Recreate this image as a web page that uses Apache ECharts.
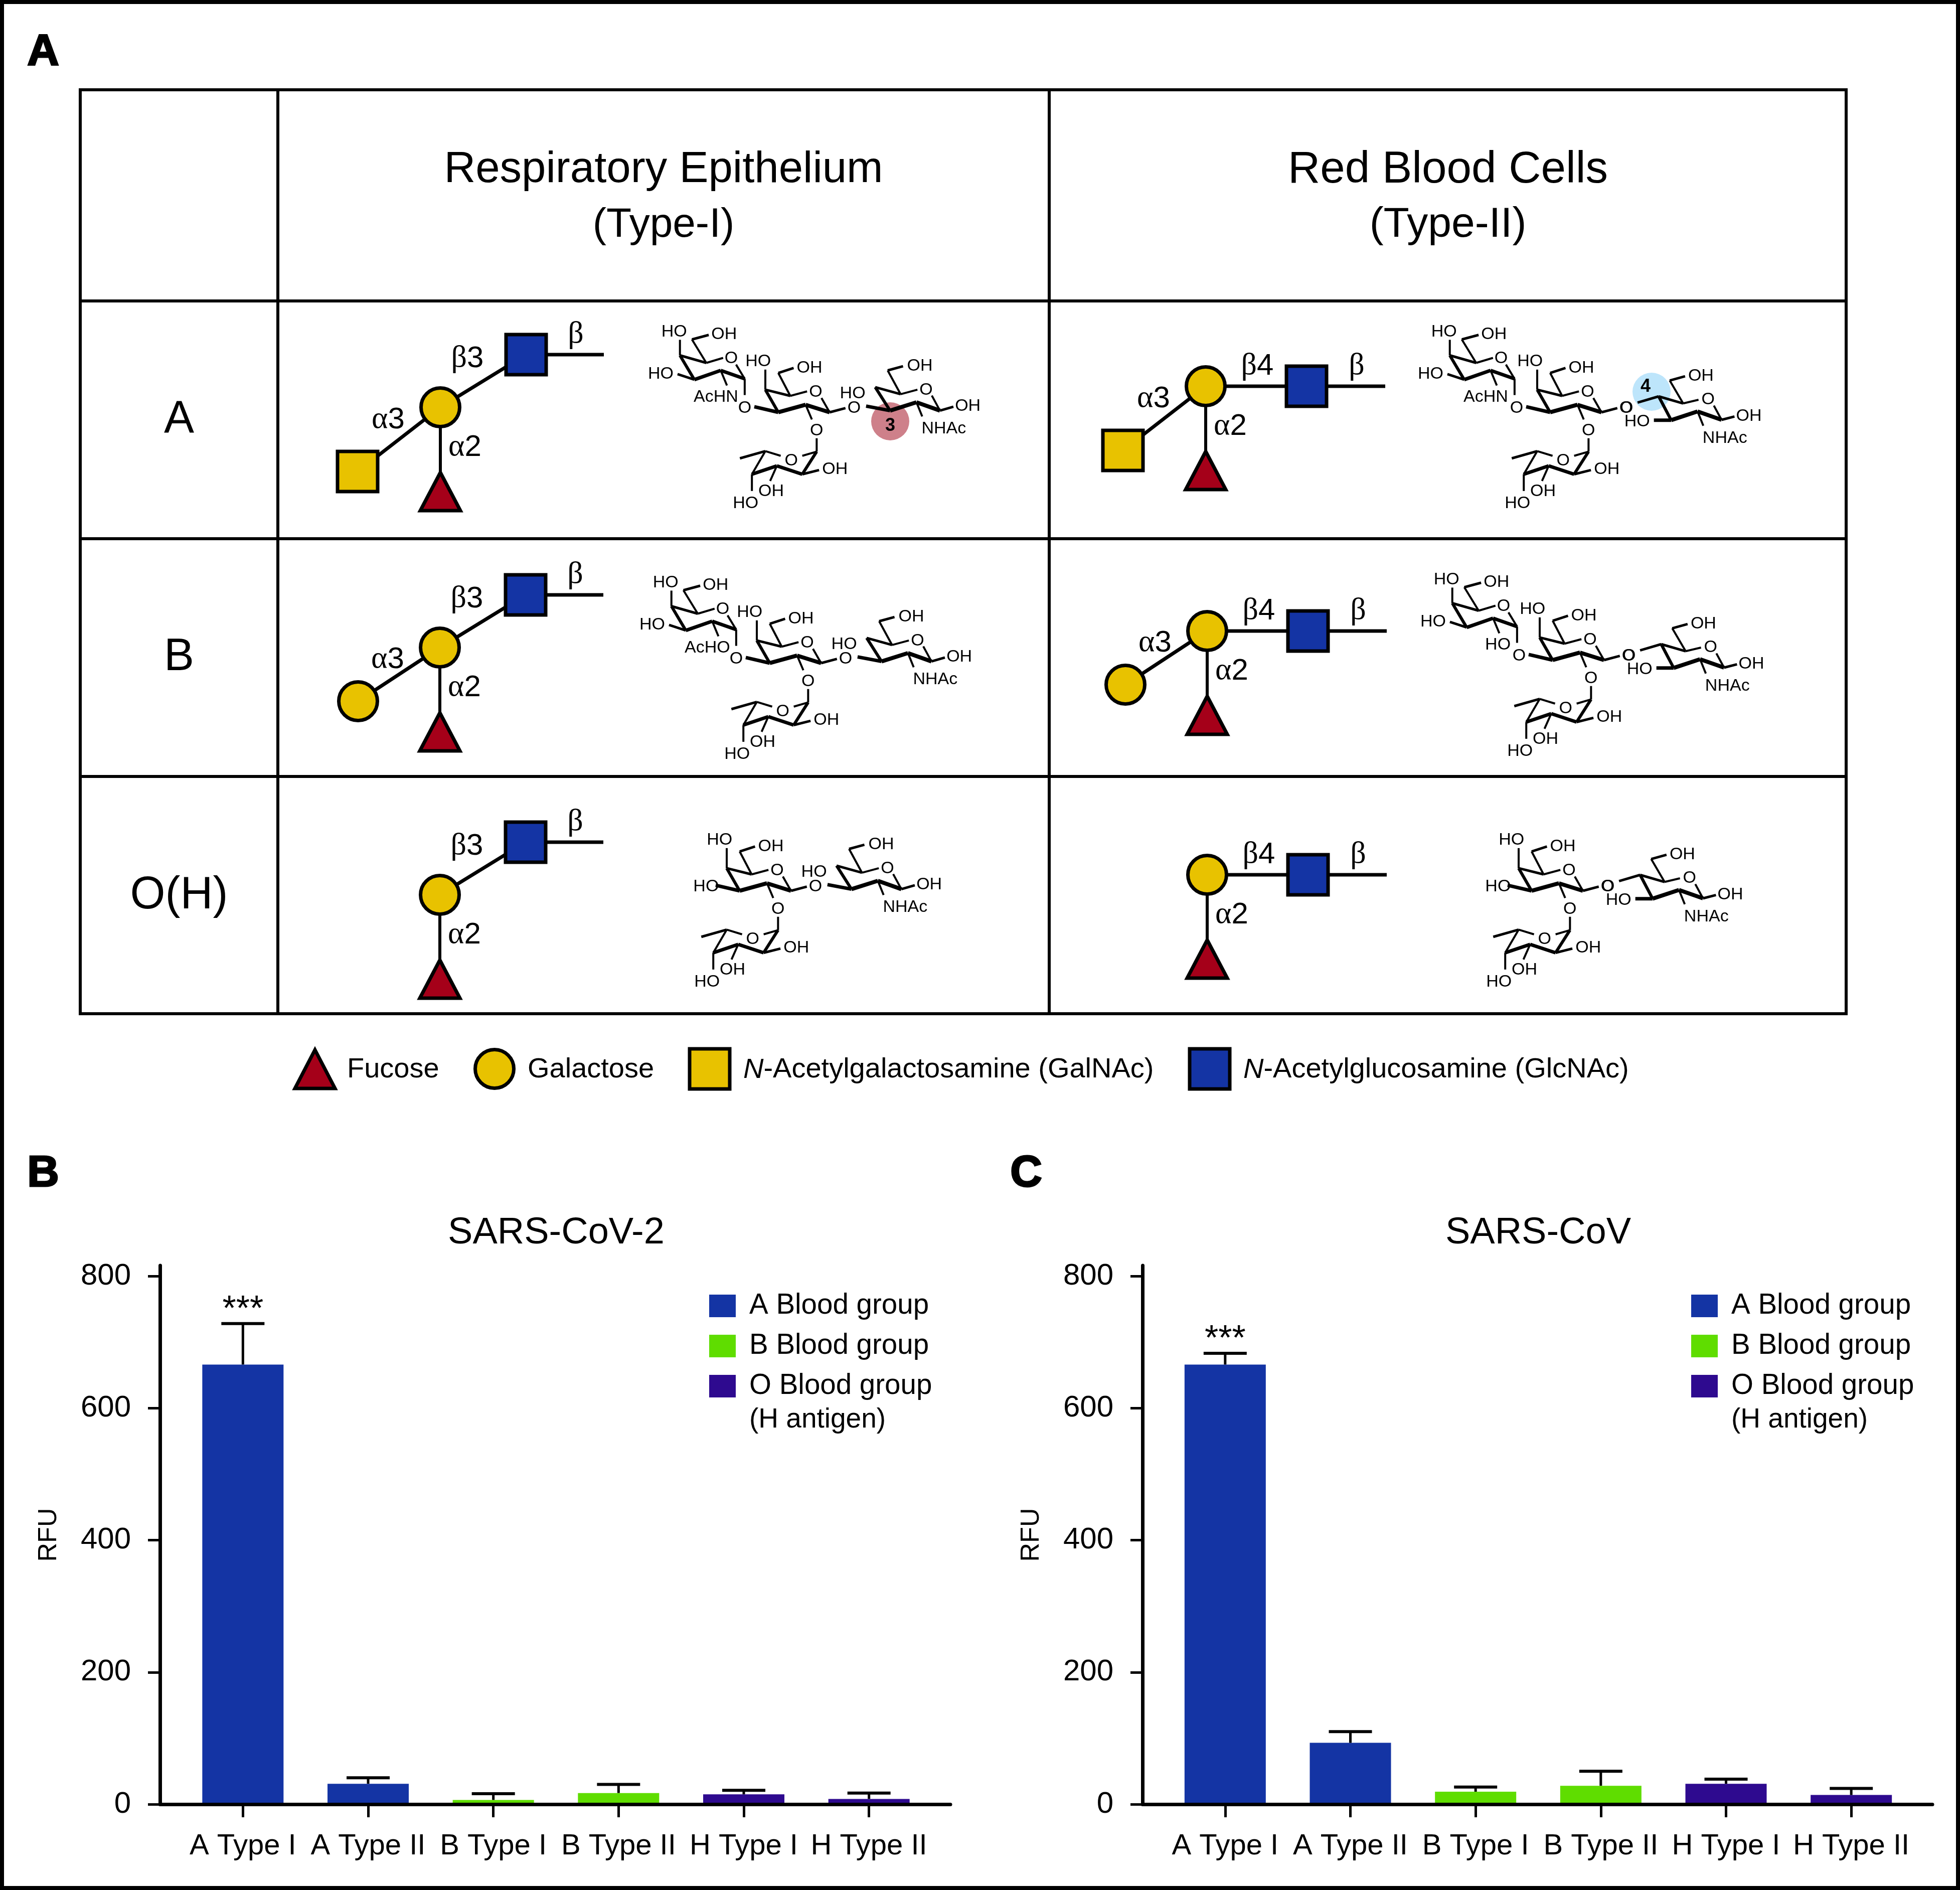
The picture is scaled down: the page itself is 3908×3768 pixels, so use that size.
<!DOCTYPE html>
<html><head><meta charset="utf-8">
<style>html,body{margin:0;padding:0;background:#fff}#c{width:3908px;height:3768px}</style>
<script src="https://cdn.jsdelivr.net/npm/echarts@6/dist/echarts.min.js"></script>
</head><body><div id="c"></div>
<script>
// ---------- chart values ----------
const categories = ['A Type I','A Type II','B Type I','B Type II','H Type I','H Type II'];
const groups = ['A Blood group','B Blood group','O Blood group'];
const groupOfCategory = [0,0,1,1,2,2];
const groupColors = ['#1434A4','#5FDD00','#2E0A8F'];
const yTicks = [0,200,400,600,800];
const cov2Mean = [666,31,6.5,17,15,8];
const cov2Upper = [728,40,16,30,21,17];
const cov2Sig = ['***','','','','',''];
const cov1Mean = [666,93,19,28,31,14];
const cov1Upper = [683,110,26,50,38,24];
const cov1Sig = ['***','','','','',''];

// ---------- diagram helpers ----------
const F = 'Liberation Sans';
const black = '#000', yellow = '#E8C200', blue = '#1434A4', red = '#A50019';
const els = [];
function T(text,x,y,size,o){ o=o||{};
  els.push({type:'text',x,y,silent:true,z:o.z||5,style:Object.assign({text,fontSize:size,fontFamily:F,fill:'#000',
    align:o.align||'center',verticalAlign:'middle',textAlign:o.align||'center',textVerticalAlign:'middle'},o.style||{})});
}
function L(x1,y1,x2,y2,w,z){ els.push({type:'line',silent:true,z:z||3,shape:{x1,y1,x2,y2},style:{stroke:black,lineWidth:w,lineCap:'butt'}}); }
function square(cx,cy,fill){ els.push({type:'rect',silent:true,z:4,shape:{x:cx-40,y:cy-40,width:80,height:80},style:{fill,stroke:black,lineWidth:7}}); }
function circle(cx,cy,fill){ els.push({type:'circle',silent:true,z:4,shape:{cx,cy,r:38.5},style:{fill,stroke:black,lineWidth:7}}); }
function tri(cx,yA,yB,fill){ els.push({type:'polygon',silent:true,z:4,shape:{points:[[cx,yA+7],[cx+40,yB-3],[cx-40,yB-3]]},style:{fill,stroke:black,lineWidth:7,lineJoin:'miter'}}); }
const greek = {g:{fontFamily:'Liberation Serif',fontSize:62}};
function linkage(txt,x,y){ const m=txt.match(/^(.)(.*)$/); T('{g|'+m[1]+'}'+m[2],x,y,60,{style:{rich:greek}}); }

function glycan(type,gx,gy,term){
  const ii = type===2;
  const gn = ii ? [gx+201,gy] : [gx+171,gy-105];
  const endx = ii ? gx+358 : gx+326;
  L(gx,gy,gn[0],gn[1],7); L(gn[0],gn[1],endx,gn[1],7);
  L(gx,gy,gx,gy+130,6);
  tri(gx,gy+123,gy+209,red); circle(gx,gy,yellow); square(gn[0],gn[1],blue);
  if(ii){ linkage('β4',gx+103,gy-40); linkage('β',gx+301,gy-40); }
  else { linkage('β3',gx+54,gy-97); linkage('β',gx+270,gy-145); }
  linkage('α2',gx+49,gy+80);
  if(term==='sq'){ L(gx,gy,gx-165,gy+128,7); square(gx-165,gy+128,yellow); linkage('α3',gx-104,gy+25); }
  if(term==='ci'){ L(gx,gy,gx-163,gy+107,7); circle(gx-163,gy+107,yellow); linkage('α3',gx-104,gy+24); }
}

// chair rings
const SX = 0.9566, SY = 0.3338;
const ring1B = [[790,325,820,470,6],[790,325,845,370,5],[845,370,880,340,4],[907,380,925,465,4],[820,470,875,415,7],[875,415,925,465,7],[820,470,785,437,5],[790,325,790,232,4],[845,370,815,230,4],[815,230,850,203,5],[875,415,888,505,4],[925,465,925,562,4]];
const ring2B = [[968,530,995,665,6],[968,530,1020,567,5],[1020,567,1055,540,4],[1085,580,1102,665,4],[995,665,1052,620,8],[1052,620,1102,665,8],[945,632,995,665,7],[968,530,968,410,4],[1020,567,995,430,4],[995,430,1027,400,5],[1052,620,1065,708,4],[1102,665,1135,640,5]];
const fucB = [[968,897,940,1035,4],[968,897,915,940,5],[968,897,1000,925,4],[1045,925,1075,900,4],[1075,900,1045,1035,6],[940,1035,992,985,7],[992,985,1045,1035,7],[1045,1035,1080,1010,5],[992,985,978,1075,4],[940,1035,940,1135,4],[1075,900,1075,820,4]];
const ring3B = [[1197,515,1228,655,6],[1197,515,1250,557,5],[1250,557,1285,530,4],[1315,565,1332,655,4],[1228,655,1283,605,8],[1283,605,1332,655,8],[1178,628,1228,655,7],[1332,655,1360,632,5],[1283,605,1295,690,4],[1250,557,1223,415,4],[1223,415,1255,390,5]];
const ring3IIB = [[1262,570,1288,712,6],[1262,570,1313,612,5],[1313,612,1345,590,4],[1377,625,1393,710,4],[1288,712,1343,660,8],[1343,660,1393,710,8],[1393,710,1420,690,5],[1343,660,1355,745,4],[1313,612,1285,475,4],[1285,475,1317,450,5],[1288,712,1252,712,7],[1262,570,1218,607,5]];
const ring1L = [['HO',778,175],['OH',882,192],['O',897,335],['HO',750,428]];
const ring2L = [['HO',953,352],['OH',1060,390],['O',1073,535],['O',1075,765],['O',1153,630]];
const fucL = [['O',1022,945],['OH',1113,997],['OH',980,1128],['HO',927,1200]];
const ring3L = [['HO',1150,545],['O',1303,522],['OH',1390,620],['NHAc',1340,755],['OH',1290,380]];
const ring3IIL = [['O',1365,580],['OH',1450,680],['NHAc',1400,810],['OH',1350,440],['HO',1217,712],['O',1195,630]];
const cs = 34;
function place(b,l,x0,dx,dy){
  b.forEach(s=>L(x0+s[0]*SX+dx,600+s[1]*SY+dy,x0+s[2]*SX+dx,600+s[3]*SY+dy,s[4]));
  l.forEach(s=>T(s[0],x0+s[1]*SX+dx,600+s[2]*SY+dy+3,cs));
}
function structure(type,dx,dy,ac,left,ax){
  const ii = type===2, off = ii?1539:0;
  if(ac){ place(ring1B,ring1L.concat([[ac,ax||865,565]]),600,dx+off-(ii?4:0),dy); }
  place(ring2B,ring2L.concat([[left,925,630]]),600,dx+off,dy);
  place(fucB,fucL,600,dx+off,dy);
  if(ii) place(ring3IIB,ring3IIL,2100,dx,dy); else place(ring3B,ring3L,600,dx,dy);
}

// page frame and table
els.push({type:'rect',silent:true,z:1,shape:{x:4,y:4,width:3900,height:3760},style:{fill:'none',stroke:black,lineWidth:8}});
const tx=[160,554,2092,3681], ty=[179,600,1074,1548,2021];
tx.forEach(x=>L(x,ty[0]-3,x,ty[4]+3,6));
ty.forEach(y=>L(tx[0]-3,y,tx[3]+3,y,6));
T('A',86,105,88,{style:{fontWeight:'bold',stroke:'#000',lineWidth:3}});
T('B',86,2341,88,{style:{fontWeight:'bold',stroke:'#000',lineWidth:3}});
T('C',2046,2341,88,{style:{fontWeight:'bold',stroke:'#000',lineWidth:3}});
T('Respiratory Epithelium',1323,339,87); T('(Type-I)',1323,449,82);
T('Red Blood Cells',2887,339,89); T('(Type-II)',2887,449,84);
T('A',357,837,90); T('B',357,1311,90); T('O(H)',357,1786,90);

// highlighted positions
els.push({type:'circle',silent:true,z:2,shape:{cx:1775,cy:840,r:38},style:{fill:'#CE808A'}});
els.push({type:'circle',silent:true,z:2,shape:{cx:3293,cy:781,r:38},style:{fill:'#BDE5FB'}});
T('3',1775,849,36,{style:{fontWeight:'bold'}});
T('4',3281,771,36,{style:{fontWeight:'bold'}});

glycan(1,878,812,'sq'); glycan(1,877,1291,'ci'); glycan(1,877,1784,null);
glycan(2,2404,770,'sq'); glycan(2,2407,1258,'ci'); glycan(2,2407,1744,null);
structure(1,0,0,'AcHN','O');
structure(1,-17,500,'AcHO','O');
structure(1,-77,954,null,'HO');
structure(2,0,0,'AcHN','O');
structure(2,5,494,'HO','O',885);
structure(2,-37,954,null,'HO');

// key for symbols
tri(628,2086,2173,red); circle(986,2131,yellow); square(1415,2131,yellow); square(2412,2131,blue);
T('Fucose',692,2133,56,{align:'left'});
T('Galactose',1052,2133,56,{align:'left'});
const rich={i:{fontStyle:'italic',fontSize:56,fontFamily:F}};
T('{i|N}-Acetylgalactosamine (GalNAc)',1482,2133,56,{align:'left',style:{rich}});
T('{i|N}-Acetylglucosamine (GlcNAc)',2479,2133,56,{align:'left',style:{rich}});
T('(H antigen)',1494,2831,55,{align:'left'});
T('(H antigen)',3452,2831,55,{align:'left'});

// ---------- charts ----------
const TOP=2523, H=1074, YMAX=816;
const panels=[
 {mean:cov2Mean,upper:cov2Upper,sig:cov2Sig,title:'SARS-CoV-2',titleX:1104,axisX:319,axisEnd:1895,catL:359.5,legendX:1409},
 {mean:cov1Mean,upper:cov1Upper,sig:cov1Sig,title:'SARS-CoV',titleX:3062,axisX:2278,axisEnd:3853,catL:2318,legendX:3367}
];
const grid=[],xAxis=[],yAxis=[],series=[],legend=[],title=[];
panels.forEach((p,k)=>{
  const gF=grid.length, gC=gF+1;
  grid.push({left:p.axisX,top:TOP,width:p.axisEnd-p.axisX,height:H});
  grid.push({left:p.catL,top:TOP,width:1498,height:H});
  xAxis.push({gridIndex:gF,type:'value',min:0,max:1,z:6,axisLine:{show:true,lineStyle:{color:'#000',width:7}},axisTick:{show:false},axisLabel:{show:false},splitLine:{show:false}});
  xAxis.push({gridIndex:gC,type:'category',data:categories,z:5,axisLine:{show:false},
    axisTick:{show:true,alignWithLabel:true,length:26,lineStyle:{color:'#000',width:5}},
    axisLabel:{interval:0,color:'#000',fontFamily:F,fontSize:58,margin:55},splitLine:{show:false}});
  yAxis.push({gridIndex:gF,type:'value',min:0,max:YMAX,interval:200,z:6,
    name:'RFU',nameLocation:'middle',nameRotate:90,nameGap:195,nameTextStyle:{fontFamily:F,fontSize:52,color:'#000'},
    axisLine:{show:true,onZero:false,lineStyle:{color:'#000',width:7}},
    axisTick:{show:true,length:24,customValues:yTicks,lineStyle:{color:'#000',width:5}},
    axisLabel:{color:'#000',fontFamily:F,fontSize:60,margin:58,padding:[14,0,0,0],customValues:yTicks},splitLine:{show:false}});
  yAxis.push({gridIndex:gC,type:'value',min:0,max:YMAX,interval:200,show:false,splitLine:{show:false}});
  groups.forEach((g,i)=>{
    series.push({name:g,type:'bar',stack:'p'+k,xAxisIndex:gC,yAxisIndex:gC,barWidth:162,
      itemStyle:{color:groupColors[i]},
      data:p.mean.map((v,c)=>groupOfCategory[c]===i?v:null)});
  });
  const sig=p.sig;
  series.push({name:'error '+p.title,type:'custom',xAxisIndex:gC,yAxisIndex:gC,z:4,clip:false,silent:true,
    encode:{x:0,y:[1,2]},
    data:p.mean.map((v,c)=>[c,v,p.upper[c]]),
    renderItem(params,api){
      const a=api.coord([api.value(0),api.value(1)]), b=api.coord([api.value(0),api.value(2)]);
      const st={stroke:'#000',lineWidth:5};
      const ch=[{type:'line',shape:{x1:a[0],y1:a[1],x2:b[0],y2:b[1]},style:st},
        {type:'line',shape:{x1:b[0]-43,y1:b[1],x2:b[0]+43,y2:b[1]},style:{stroke:'#000',lineWidth:6}}];
      const s=sig[params.dataIndex];
      if(s) ch.push({type:'text',x:b[0],y:b[1]-26,style:{text:s,fontSize:70,fontFamily:F,fill:'#000',align:'center',verticalAlign:'middle'}});
      return {type:'group',children:ch};
    }});
  legend.push({left:p.legendX,top:2570,orient:'vertical',selectedMode:false,icon:'rect',itemWidth:53,itemHeight:45,itemGap:23,
    data:groups,textStyle:{fontFamily:F,fontSize:56.5,color:'#000',padding:[0,0,0,22]}});
  title.push({text:p.title,left:p.titleX,top:2454,textAlign:'center',textVerticalAlign:'middle',textStyle:{fontFamily:F,fontSize:74,fontWeight:'normal',color:'#000'}});
});

const chart=echarts.init(document.getElementById('c'),null,{renderer:'canvas',width:3908,height:3768});
chart.setOption({animation:false,backgroundColor:'#fff',grid,xAxis,yAxis,series,legend,title,tooltip:{show:false},graphic:{elements:els}});
</script></body></html>
